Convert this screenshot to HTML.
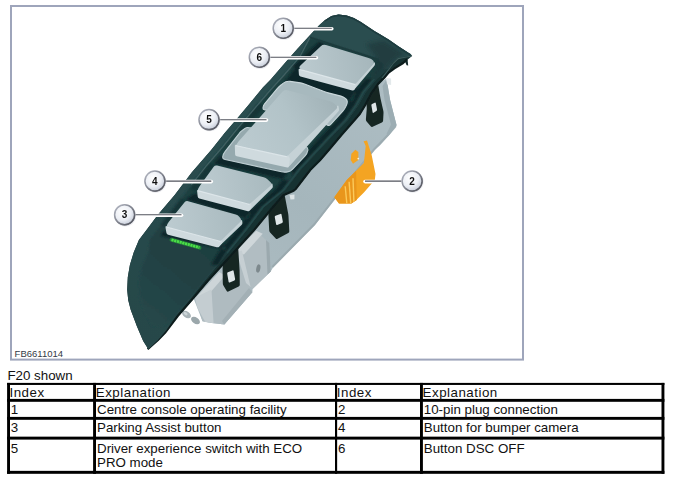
<!DOCTYPE html>
<html>
<head>
<meta charset="utf-8">
<title>F20 centre console operating facility</title>
<style>
html,body{margin:0;padding:0;background:#fff;}
body{width:674px;height:482px;position:relative;overflow:hidden;font-family:"Liberation Sans",sans-serif;color:#000;}
#art{position:absolute;left:0;top:0;width:674px;height:482px;}
.h{letter-spacing:0.5px;}
.t{position:absolute;font-size:13.33px;line-height:15px;white-space:nowrap;color:#111;}
</style>
</head>
<body>
<svg id="art" width="674" height="482" viewBox="0 0 674 482">
<defs>
  <linearGradient id="gPanel" gradientUnits="userSpaceOnUse" x1="360" y1="20" x2="150" y2="340">
    <stop offset="0" stop-color="#2c4e50"/>
    <stop offset="0.5" stop-color="#2a4d4f"/>
    <stop offset="1" stop-color="#264749"/>
  </linearGradient>
  <radialGradient id="gCall" cx="0.4" cy="0.35" r="0.75">
    <stop offset="0" stop-color="#ffffff"/>
    <stop offset="0.55" stop-color="#eceff5"/>
    <stop offset="1" stop-color="#bcc3d1"/>
  </radialGradient>
  <linearGradient id="gHouse" gradientUnits="userSpaceOnUse" x1="390" y1="90" x2="220" y2="320">
    <stop offset="0" stop-color="#adbdc3"/>
    <stop offset="0.5" stop-color="#a5b6bc"/>
    <stop offset="1" stop-color="#aebdc3"/>
  </linearGradient>
  <linearGradient id="gB6" gradientUnits="userSpaceOnUse" x1="305" y1="70" x2="370" y2="55">
    <stop offset="0" stop-color="#bac9ce"/><stop offset="1" stop-color="#a6b7bc"/>
  </linearGradient>
  <linearGradient id="gB5" gradientUnits="userSpaceOnUse" x1="240" y1="150" x2="335" y2="100">
    <stop offset="0" stop-color="#bccbd0"/><stop offset="0.55" stop-color="#b2c3c8"/><stop offset="1" stop-color="#a1b2b7"/>
  </linearGradient>
  <linearGradient id="gB4" gradientUnits="userSpaceOnUse" x1="200" y1="192" x2="270" y2="180">
    <stop offset="0" stop-color="#bccbd0"/><stop offset="1" stop-color="#a9babf"/>
  </linearGradient>
  <linearGradient id="gB3" gradientUnits="userSpaceOnUse" x1="168" y1="228" x2="240" y2="216">
    <stop offset="0" stop-color="#bccbd0"/><stop offset="1" stop-color="#a9babf"/>
  </linearGradient>
  <linearGradient id="gCallS" x1="0" y1="0" x2="1" y2="1">
    <stop offset="0" stop-color="#b8bcc8"/><stop offset="1" stop-color="#4a4c55"/>
  </linearGradient>
  <linearGradient id="gInner" gradientUnits="userSpaceOnUse" x1="215" y1="245" x2="150" y2="325">
    <stop offset="0" stop-color="#1f3f41"/><stop offset="0.4" stop-color="#214143"/><stop offset="1" stop-color="#264749"/>
  </linearGradient>
  <filter id="blur1" x="-10%" y="-10%" width="120%" height="120%"><feGaussianBlur stdDeviation="1.3"/></filter>
  <filter id="soft" x="-5%" y="-5%" width="110%" height="110%"><feGaussianBlur stdDeviation="0.55"/></filter>
  <filter id="blur2" x="-20%" y="-20%" width="140%" height="140%"><feGaussianBlur stdDeviation="2.2"/></filter>
  <filter id="blur0" x="-10%" y="-10%" width="120%" height="120%"><feGaussianBlur stdDeviation="0.9"/></filter>
</defs>

<!-- frame -->
<rect x="11" y="6" width="512" height="353.6" fill="#fff" stroke="#9ea5bb" stroke-width="2"/>

<!-- ILLUSTRATION -->
<g id="illus" filter="url(#soft)">
  <g id="housing">
  <path d="M378.0,84.0 L386.3,78.5 L387.6,85.0 L390.1,100.0 L396.6,125.2 L388.7,135.5 L380.3,145.0 L374.6,150.0 L350.0,180.0 L334.7,199.8 L315.0,225.0 L272.9,267.8 L270.7,271.4 L252.6,288.9 L252.3,292.3 L224.3,324.5 L211.9,323.0 L202.5,321.3 L194.2,300.0 L190.0,290.0 L300.0,170.0 Z" fill="url(#gHouse)"/>
  <path d="M395.8,126.0 L388.0,135.0 L374.0,149.5 L350.0,179.0 L334.0,199.0 L314.3,224.3 L272.3,267.0" fill="none" stroke="#97a6ab" stroke-width="2" opacity="0.8"/>
  <path d="M386.3,80.0 L387.6,85.0 L390.1,100.0 L396.6,125.2 L388.7,135.5 L386.5,134.0 L391.0,124.5 L384.5,100.0 L382.5,86.0 Z" fill="#9cadb3"/>
  <path d="M386.1,77.9 L391.1,78.6 L391.1,84.9 L387.0,84.3 Z" fill="#e3e9eb"/>
  <path d="M235.2,251.9 L256.2,230.8 L269.3,243.0 L270.7,271.4 L252.6,288.9 L246.0,283.0 Z" fill="#b1bdc2"/>
  <path d="M235.2,251.9 L256.2,230.8 L262.7,233.7 L243.9,254.5 Z" fill="#cfd7da"/>
  <path d="M266.0,240.0 L269.3,243.0 L270.7,271.4 L267.5,274.5 Z" fill="#9ba9ae"/>
  <ellipse cx="258.3" cy="268.5" rx="2" ry="4.2" fill="#7d898d" transform="rotate(12 258.3 268.5)"/>
  <path d="M195.2,298.5 L219.1,272.0 L240.0,268.0 L252.3,292.3 L224.3,324.5 L211.9,323.0 L202.5,321.3 Z" fill="#afbbc0"/>
  <path d="M195.2,298.5 L219.1,272.0 L225.0,275.5 L201.5,302.5 Z" fill="#cdd5d8"/>
  <path d="M249.0,288.0 L252.3,292.3 L224.3,324.5 L222.0,321.0 Z" fill="#a3b0b5"/>
  <path d="M194.9,297.8 L211.5,289.5 L213.6,323.2 L205.3,322.0 L197.5,308.0 Z" fill="#c4cdd1"/>
  <path d="M236.5,252.3 L241.9,250.5 L250.6,287.0 L246.0,283.0 Z" fill="#c6cfd3"/>
  <ellipse cx="186.5" cy="314.5" rx="5" ry="3.1" fill="#a9b4b8" transform="rotate(35 186.5 314.5)"/>
  <ellipse cx="195.5" cy="320.5" rx="5" ry="3.1" fill="#9ba7ab" transform="rotate(35 195.5 320.5)"/>
  <ellipse cx="185.6" cy="313.6" rx="2.2" ry="1.4" fill="#ccd4d7" transform="rotate(35 185.6 313.6)"/>
  <path d="M289.5,195.0 L294.5,194.6 L294.4,199.2 L290.5,199.6 Z" fill="#dde4e6"/>
  </g>
  <g id="connector">
  <path d="M334.3,197.2 L346.8,180.1 L363.9,163.0 L365.7,145.9 L363.6,141.2 L367.0,140.4 L371.7,155.2 L375.5,173.9 L374.8,180.1 L363.9,192.5 L356.1,200.3 L351.4,203.4 L339.0,203.4 Z" fill="#f4a421"/>
  <path d="M355.3,149.8 L358.4,152.1 L358.4,159.9 L353.0,163.8 L350.7,159.9 L351.4,153.7 Z" fill="#f4a421"/>
  <path d="M334.3,197.2 L346.8,180.1 L356.0,171.0 L356.8,200.0 L351.4,203.4 L339.0,203.4 Z" fill="#e9961b"/>
  <path d="M345.2,186.3 L346.8,203.2" stroke="#fbc95a" stroke-width="1.4" fill="none"/>
  <path d="M349.1,181.7 L350.7,203.2" stroke="#fbc95a" stroke-width="1.4" fill="none"/>
  <path d="M353.0,178.2 L353.9,201.7" stroke="#fbc95a" stroke-width="1.4" fill="none"/>
  <circle cx="358.3" cy="158.6" r="0.9" fill="#fff3d8"/>
  </g>
  <g id="clips">
  <path d="M366.1,99.8 Q366.0,98.6 366.7,97.6 L372.3,89.0 Q373.0,88.0 373.9,87.3 L377.2,84.7 Q378.1,84.0 378.3,85.2 L380.3,97.3 Q380.5,98.5 380.8,99.7 L383.3,110.8 Q383.6,112.0 383.5,113.2 L383.1,120.8 Q383.0,122.0 381.9,122.5 L372.6,126.7 Q371.5,127.2 370.7,126.3 L366.6,121.4 Q365.8,120.5 365.9,119.3 L366.7,109.2 Q366.8,108.0 366.7,106.8 Z" fill="#172624"/>
  <path d="M371.4,105.5 Q371.2,104.5 372.1,104.1 L374.7,102.7 Q375.6,102.3 375.8,103.3 L377.0,109.3 Q377.2,110.3 376.4,110.9 L373.6,112.7 Q372.8,113.3 372.6,112.3 Z" fill="#dfe6e8"/>
  <path d="M268.4,215.2 Q268.3,214.0 268.6,212.8 L270.7,204.2 Q271.0,203.0 272.0,202.3 L283.5,194.7 Q284.5,194.0 284.7,195.2 L288.2,213.8 Q288.4,215.0 288.5,216.2 L289.3,231.3 Q289.4,232.5 288.3,233.1 L277.6,238.7 Q276.5,239.3 275.7,238.4 L270.1,232.4 Q269.3,231.5 269.2,230.3 Z" fill="#172624"/>
  <path d="M274.8,217.2 Q274.6,216.2 275.5,215.8 L280.4,213.9 Q281.3,213.5 281.5,214.5 L282.8,221.6 Q283.0,222.6 282.1,223.0 L277.2,224.9 Q276.3,225.3 276.1,224.3 Z" fill="#dfe6e8"/>
  <path d="M222.6,269.2 Q222.6,268.0 222.7,266.8 L223.9,257.2 Q224.0,256.0 224.9,255.3 L237.1,245.7 Q238.0,245.0 238.1,246.2 L239.5,268.8 Q239.6,270.0 239.6,271.2 L239.8,284.8 Q239.8,286.0 238.7,286.5 L228.4,291.5 Q227.3,292.0 226.7,291.0 L223.4,285.5 Q222.8,284.5 222.8,283.3 Z" fill="#172624"/>
  <path d="M227.2,273.7 Q227.0,272.7 227.9,272.3 L232.5,270.4 Q233.4,270.0 233.6,271.0 L235.1,279.0 Q235.3,280.0 234.4,280.4 L229.7,282.4 Q228.8,282.8 228.6,281.8 Z" fill="#dfe6e8"/>
  </g>
  <g id="panel">
  <path d="M331.6,16.0 L324.8,20.3 L319.2,25.2 L312.2,32.8 L297.7,48.4 L283.2,65.0 L270.7,79.5 L262.9,87.6 L252.6,100.0 L248.5,105.0 L235.9,119.9 L224.7,133.0 L211.2,150.0 L191.7,172.4 L174.7,195.0 L158.1,214.6 L148.0,228.0 L138.9,240.0 L133.7,252.4 L129.9,264.9 L127.8,277.3 L127.2,289.8 L128.2,300.0 L130.7,309.8 L137.0,326.4 L143.2,340.9 L148.4,349.2 L158.8,339.9 L166.0,332.6 L178.5,316.0 L193.0,299.4 L208.5,281.0 L234.0,253.0 L254.9,230.0 L273.8,207.0 L284.2,195.2 L294.3,190.8 L296.5,189.0 L311.0,170.0 L321.0,160.0 L329.6,150.0 L342.2,135.0 L355.6,119.8 L360.5,114.0 L366.0,105.0 L372.0,93.5 L378.6,84.1 L385.3,77.4 L389.4,72.5 L395.2,68.3 L403.5,63.3 L408.0,59.3 L412.2,55.9 L410.5,54.0 L407.3,52.1 L398.0,46.0 L388.7,39.5 L380.0,34.2 L375.2,31.4 L368.1,26.8 L361.0,22.0 L353.8,17.9 L346.7,15.5 L338.7,14.5 Z" fill="#183031"/>
  <path d="M404.5,60.5 L407.6,60 L408.2,65.6 L406.6,65.2 Z" fill="#14292a"/>
  <path d="M147.6,349.2 L158.0,339.9 L165.2,332.6 L177.7,316.0 L192.2,299.4 L207.7,281.0 L233.2,253.0 L254.1,230.0 L273.0,207.0 L283.4,195.2 L293.5,190.8 L295.7,189.0 L310.2,170.0 L320.2,160.0 L328.8,150.0 L341.4,135.0 L354.8,119.8 L359.7,114.0 L365.2,105.0 L371.2,93.5 L377.8,84.1 L384.5,77.4 L388.6,72.5 L394.4,68.3 L402.7,63.3 L407.2,59.3" fill="none" stroke="#0f1e1e" stroke-width="2.2"/>
  <clipPath id="cpTop"><path d="M331.6,16.0 L324.8,20.3 L319.2,25.2 L312.2,32.8 L297.7,48.4 L283.2,65.0 L270.7,79.5 L262.9,87.6 L252.6,100.0 L248.5,105.0 L235.9,119.9 L224.7,133.0 L211.2,150.0 L191.7,172.4 L174.7,195.0 L158.1,214.6 L148.0,228.0 L138.9,240.0 L133.7,252.4 L129.9,264.9 L127.8,277.3 L127.2,289.8 L128.2,300.0 L130.7,309.8 L137.0,326.4 L143.2,340.9 L148.4,349.2 L158.0,340.0 L166.5,330.0 L176.0,316.0 L189.5,300.0 L204.5,281.0 L217.9,265.0 L228.0,253.0 L246.9,230.0 L264.3,207.0 L285.1,190.0 L300.5,170.0 L319.2,150.0 L333.2,135.0 L347.9,120.0 L358.5,105.0 L365.8,92.0 L376.7,79.0 L388.2,68.8 L393.0,62.3 L398.0,57.9 L405.0,56.6 L411.3,55.6 L411.8,55.6 L410.5,54.0 L407.3,52.1 L398.0,46.0 L388.7,39.5 L380.0,34.2 L375.2,31.4 L368.1,26.8 L361.0,22.0 L353.8,17.9 L346.7,15.5 L338.7,14.5 Z"/></clipPath>
  <path d="M331.6,16.0 L324.8,20.3 L319.2,25.2 L312.2,32.8 L297.7,48.4 L283.2,65.0 L270.7,79.5 L262.9,87.6 L252.6,100.0 L248.5,105.0 L235.9,119.9 L224.7,133.0 L211.2,150.0 L191.7,172.4 L174.7,195.0 L158.1,214.6 L148.0,228.0 L138.9,240.0 L133.7,252.4 L129.9,264.9 L127.8,277.3 L127.2,289.8 L128.2,300.0 L130.7,309.8 L137.0,326.4 L143.2,340.9 L148.4,349.2 L158.0,340.0 L166.5,330.0 L176.0,316.0 L189.5,300.0 L204.5,281.0 L217.9,265.0 L228.0,253.0 L246.9,230.0 L264.3,207.0 L285.1,190.0 L300.5,170.0 L319.2,150.0 L333.2,135.0 L347.9,120.0 L358.5,105.0 L365.8,92.0 L376.7,79.0 L388.2,68.8 L393.0,62.3 L398.0,57.9 L405.0,56.6 L411.3,55.6 L411.8,55.6 L410.5,54.0 L407.3,52.1 L398.0,46.0 L388.7,39.5 L380.0,34.2 L375.2,31.4 L368.1,26.8 L361.0,22.0 L353.8,17.9 L346.7,15.5 L338.7,14.5 Z" fill="url(#gPanel)"/>
  <g clip-path="url(#cpTop)"><path d="M310.0,37.4 L299.9,56.7 L284.1,75.0 L269.6,91.0 L253.3,110.0 L237.6,128.4 L222.6,147.0 L207.1,165.0 L191.2,185.0 L176.7,205.0 L160.8,225.0 L149.4,240.0 L148.5,252.0 L142.0,266.0 L139.0,281.0 L139.5,296.0 L144.0,311.0 L152.0,326.0 L165.0,325.0 L176.0,316.0 L189.5,300.0 L204.5,281.0 L217.9,265.0 L225.0,253.0 L243.7,230.0 L260.9,207.0 L281.6,190.0 L296.8,170.0 L315.4,150.0 L329.3,135.0 L343.8,120.0 L354.3,105.0 L361.5,92.0 L372.3,79.0 L381.5,70.0 L383.5,64.5 L378.6,59.8 Z" fill="url(#gInner)" filter="url(#blur1)"/></g>
  <g clip-path="url(#cpTop)"><path d="M376.0,58.0 L366.0,44.0 L384.0,40.0 L406.0,54.0 L398.0,57.9 L393.0,62.3 L388.2,68.8 L378.0,82.0 L372.0,80.0 Z" fill="#1b3537" opacity="0.6" filter="url(#blur2)"/></g>
  <path d="M411.0,56.2 L405.0,57.2 L398.3,58.6 L393.5,63.0 L388.8,69.4 L382.0,78.0" fill="none" stroke="#456767" stroke-width="1.1" opacity="0.8"/>
  <path d="M410.2,54.9 L407.0,53.0 L397.7,46.9 L388.4,40.4 L379.7,35.1 L374.9,32.3 L367.8,27.7 L360.7,22.9 L353.5,18.8 L346.4,16.4 L338.4,15.4 L331.6,16.8 L324.8,21.2" fill="none" stroke="#1d3a3c" stroke-width="1.6" opacity="0.8"/>
  <g clip-path="url(#cpTop)"><path d="M264.0,106.0 L259.0,112.0 L243.0,133.0 L239.0,130.0 L258.0,104.0 Z M214.0,166.0 L196.0,191.0 L191.0,189.0 L210.0,163.0 Z M185.0,201.5 L165.0,227.0 L160.5,225.0 L181.0,198.5 Z" fill="#10262a" opacity="0.45" filter="url(#blur0)"/></g>
  <g clip-path="url(#cpTop)"><path d="M296.0,67.0 L357.0,85.5 L353.0,101.0 L283.0,84.0 Z M319.0,41.5 L325.0,44.0 L299.0,71.0 L292.5,66.5 Z M221.0,155.5 L293.0,172.0 L290.0,181.0 L213.5,163.5 Z M194.5,193.5 L252.0,209.0 L248.0,219.0 L185.5,199.5 Z M163.0,231.0 L219.0,247.0 L224.0,243.0 L226.0,250.0 L161.0,236.0 Z M218.4,265.0 L225.5,253.0 L244.2,230.0 L261.4,207.0 L282.1,190.0 L297.3,170.0 L315.9,150.0 L329.8,135.0 L344.3,120.0 L354.8,105.0 L362.0,92.0 L372.8,79.0 L365.3,79.0 L354.5,92.0 L347.3,105.0 L336.8,120.0 L322.3,135.0 L308.4,150.0 L289.8,170.0 L274.6,190.0 L253.9,207.0 L236.7,230.0 L218.0,253.0 L210.9,265.0 Z" fill="#10262a" filter="url(#blur0)"/></g>
  <path d="M176.0,316.0 L189.5,300.0 L204.5,281.0 L217.9,265.0 L225.0,253.0 L243.7,230.0 L260.9,207.0 L281.6,190.0 L296.8,170.0 L315.4,150.0 L329.3,135.0 L343.8,120.0 L354.3,105.0 L361.5,92.0 L372.3,79.0 L381.5,70.0 L388.2,68.8 L376.7,79.0 L365.8,92.0 L358.5,105.0 L347.9,120.0 L333.2,135.0 L319.2,150.0 L300.5,170.0 L285.1,190.0 L264.3,207.0 L246.9,230.0 L228.0,253.0 L217.9,265.0 L204.5,281.0 L189.5,300.0 L176.0,316.0 Z" fill="#1d3b3c" opacity="0.85"/>
  <path d="M227.0,253.0 L245.7,230.0 L262.9,207.0 L283.6,190.0 L298.8,170.0 L317.4,150.0 L331.3,135.0 L345.8,120.0 L356.3,105.0 L363.5,92.0 L374.3,79.0" fill="none" stroke="#25494a" stroke-width="1.6" opacity="0.9"/>
  <path d="M310.0,37.4 L299.9,56.7 L284.1,75.0 L269.6,91.0 L253.3,110.0 L237.6,128.4 L222.6,147.0 L207.1,165.0 L191.2,185.0" fill="none" stroke="#456466" stroke-width="1.2" opacity="0.85"/>
  <path d="M310,37.4 L378.6,59.8" stroke="#1f3b3d" stroke-width="2" fill="none"/>
  </g>
  <g id="buttons">
  <path d="M354.6,83.5 Q354.8,82.0 355.9,80.9 L373.7,62.8 Q374.8,61.7 375.0,63.2 L375.0,63.5 Q375.2,65.0 374.2,66.1 L354.6,89.2 Q353.6,90.3 353.8,88.8 Z" fill="#c5d2d6"/>
  <path d="M298.6,70.1 Q298.5,68.5 300.1,68.9 L353.2,81.6 Q354.8,82.0 355.9,83.0 L355.9,83.0 Q357.0,84.0 356.3,85.4 L354.5,89.4 Q353.8,90.8 352.3,90.4 L300.5,76.4 Q299.0,76.0 298.9,74.4 Z" fill="#cfdade"/>
  <path d="M320.8,46.3 Q323.0,44.2 325.9,45.1 L368.6,57.9 Q371.5,58.8 373.1,60.6 L373.1,60.6 Q374.8,62.5 372.8,64.7 L356.1,83.2 Q354.8,84.7 352.9,84.2 L301.9,69.7 Q300.0,69.2 299.5,68.1 L299.5,68.1 Q299.0,67.0 300.4,65.6 Z" fill="url(#gB6)"/>
  <path d="M300.5,69.6 L354.5,84.4" fill="none" stroke="#e1e9ec" stroke-width="1.1" stroke-linecap="round" opacity="0.85"/>
  <path d="M264.3,109.8 Q262.8,109.5 263.0,108.0 L263.1,107.3 Q263.3,105.3 264.6,103.8 L277.0,88.9 Q278.9,86.6 281.3,84.8 L283.0,83.4 Q286.2,80.9 290.2,81.4 L298.7,82.6 Q301.7,83.0 304.5,84.1 L323.4,91.2 Q326.2,92.3 329.1,93.1 L340.9,96.1 Q343.8,96.9 346.0,98.9 L346.0,99.0 Q348.2,101.0 346.6,104.7 L346.0,106.1 Q344.8,108.9 342.8,111.1 L330.7,124.3 Q329.3,125.8 327.6,125.2 L327.4,125.0 Q326.0,124.5 324.5,124.2 Z" fill="#a7b9be" stroke="#cad7db" stroke-width="1.1"/>
  <path d="M241.9,130.8 Q240.3,132.0 239.1,133.6 L225.2,151.3 Q223.3,153.7 222.8,156.3 L222.8,156.3 Q222.2,158.9 225.1,159.5 L281.5,171.8 Q284.4,172.4 287.4,171.9 L287.6,171.9 Q290.6,171.4 292.7,169.2 L305.1,155.9 Q307.2,153.7 307.7,150.7 L307.8,150.5 Q308.3,147.5 305.5,146.5 L252.9,128.3 Q252.0,128.0 251.0,127.9 L248.5,127.6 Q246.5,127.3 244.9,128.5 Z" fill="#95a9ae" stroke="#bdcdd1" stroke-width="1.1"/>
  <path d="M286.7,155.5 Q286.5,154.0 287.6,153.0 L337.2,106.0 Q338.3,105.0 338.6,106.5 L339.0,109.0 Q339.3,110.5 338.3,111.6 L289.6,166.1 Q288.6,167.2 288.4,165.7 Z" fill="#c5d2d6"/>
  <path d="M234.8,146.1 Q234.7,144.5 236.3,144.8 L284.9,153.7 Q286.5,154.0 287.6,155.2 L288.9,156.8 Q290.0,158.0 289.8,159.6 L289.0,166.2 Q288.8,167.8 287.2,167.5 L236.8,156.3 Q235.2,156.0 235.1,154.4 Z" fill="#cfdade"/>
  <path d="M282.4,91.7 Q284.4,89.5 287.3,90.3 L329.2,101.1 Q332.1,101.9 334.4,103.8 L336.0,105.2 Q338.3,107.1 336.1,109.2 L288.7,154.8 Q286.5,156.9 283.6,156.2 L238.6,146.2 Q235.7,145.5 236.8,143.9 L236.8,143.9 Q237.8,142.3 239.8,140.1 Z" fill="url(#gB5)"/>
  <path d="M236.5,145.8 L286.3,156.6" fill="none" stroke="#e1e9ec" stroke-width="1.1" stroke-linecap="round" opacity="0.85"/>
  <path d="M249.2,203.5 Q249.2,202.0 250.4,201.0 L271.2,184.0 Q272.4,183.0 272.6,184.5 L272.8,186.0 Q273.0,187.5 271.9,188.6 L250.3,209.9 Q249.2,211.0 249.2,209.5 Z" fill="#c5d2d6"/>
  <path d="M197.1,191.1 Q197.0,189.5 198.6,189.9 L247.6,201.6 Q249.2,202.0 250.3,203.2 L250.9,203.8 Q252.0,205.0 251.4,206.5 L250.0,210.1 Q249.4,211.6 247.9,211.2 L199.3,198.6 Q197.8,198.2 197.7,196.6 Z" fill="#cfdade"/>
  <path d="M213.7,166.8 Q215.0,165.0 217.1,165.5 L263.7,177.3 Q265.8,177.8 267.4,179.3 L270.8,182.5 Q272.4,184.0 270.8,185.5 L250.8,203.0 Q249.2,204.5 247.1,203.9 L199.5,191.1 Q197.4,190.5 198.2,188.8 L198.2,188.8 Q199.0,187.0 200.3,185.2 Z" fill="url(#gB4)"/>
  <path d="M198.5,190.9 L249.0,204.3" fill="none" stroke="#e1e9ec" stroke-width="1.1" stroke-linecap="round" opacity="0.85"/>
  <path d="M219.8,240.5 Q220.2,239.0 221.3,238.0 L240.9,220.5 Q242.0,219.5 242.2,221.0 L242.4,222.5 Q242.6,224.0 241.5,225.0 L219.2,246.3 Q218.1,247.3 218.5,245.8 Z" fill="#c5d2d6"/>
  <path d="M165.5,227.4 Q165.3,225.8 166.9,226.2 L218.6,238.6 Q220.2,239.0 221.3,240.2 L221.9,240.8 Q223.0,242.0 222.0,243.2 L219.3,246.4 Q218.3,247.6 216.8,247.2 L168.1,234.7 Q166.6,234.3 166.4,232.7 Z" fill="#cfdade"/>
  <path d="M184.6,202.3 Q186.0,200.6 188.1,201.2 L235.7,214.5 Q237.8,215.1 239.2,216.8 L240.6,218.6 Q242.0,220.3 240.4,221.8 L221.8,240.0 Q220.2,241.5 218.1,240.9 L168.4,227.4 Q166.3,226.8 166.9,225.2 L166.9,225.2 Q167.5,223.5 168.9,221.8 Z" fill="url(#gB3)"/>
  <path d="M167.3,227.2 L220.0,241.3" fill="none" stroke="#e1e9ec" stroke-width="1.1" stroke-linecap="round" opacity="0.85"/>
  <path d="M171.5,239.8 L199.5,247.6" stroke="#2aa838" stroke-width="4" stroke-linecap="round" fill="none" opacity="0.6"/>
  <path d="M171.5,239.8 L199.5,247.6" stroke="#4be047" stroke-width="2.7" stroke-dasharray="2.2 0.6" fill="none"/>
  </g>
  <g id="callouts" font-family="Liberation Sans, sans-serif" font-weight="bold" font-size="10" text-anchor="middle" fill="#111">
  <line x1="293.5" y1="28.8" x2="331.8" y2="28.8" stroke="#fff" stroke-width="3.6" stroke-linecap="round"/>
  <line x1="293.5" y1="28.3" x2="331.8" y2="28.3" stroke="#50535c" stroke-width="1.1"/>
  <circle cx="283.8" cy="29.0" r="10.9" fill="#d9dbe2" opacity="0.55"/>
  <circle cx="283.4" cy="28.8" r="10.3" fill="#55585f" opacity="0.75"/>
  <circle cx="283.2" cy="28.2" r="10" fill="url(#gCall)" stroke="url(#gCallS)" stroke-width="1.5"/>
  <text x="283.2" y="31.8">1</text>
  <line x1="269.5" y1="57.8" x2="316.4" y2="57.8" stroke="#fff" stroke-width="3.6" stroke-linecap="round"/>
  <line x1="269.5" y1="57.3" x2="316.4" y2="57.3" stroke="#50535c" stroke-width="1.1"/>
  <circle cx="259.9" cy="58.0" r="10.9" fill="#d9dbe2" opacity="0.55"/>
  <circle cx="259.6" cy="57.8" r="10.3" fill="#55585f" opacity="0.75"/>
  <circle cx="259.3" cy="57.2" r="10" fill="url(#gCall)" stroke="url(#gCallS)" stroke-width="1.5"/>
  <text x="259.3" y="60.8">6</text>
  <line x1="219.5" y1="120.1" x2="266.5" y2="120.1" stroke="#fff" stroke-width="3.6" stroke-linecap="round"/>
  <line x1="219.5" y1="119.7" x2="266.5" y2="119.7" stroke="#50535c" stroke-width="1.1"/>
  <circle cx="209.6" cy="120.4" r="10.9" fill="#d9dbe2" opacity="0.55"/>
  <circle cx="209.2" cy="120.1" r="10.3" fill="#55585f" opacity="0.75"/>
  <circle cx="209.0" cy="119.6" r="10" fill="url(#gCall)" stroke="url(#gCallS)" stroke-width="1.5"/>
  <text x="209.0" y="123.2">5</text>
  <line x1="165.5" y1="181.6" x2="211.3" y2="181.6" stroke="#fff" stroke-width="3.6" stroke-linecap="round"/>
  <line x1="165.5" y1="181.1" x2="211.3" y2="181.1" stroke="#50535c" stroke-width="1.1"/>
  <circle cx="155.5" cy="181.8" r="10.9" fill="#d9dbe2" opacity="0.55"/>
  <circle cx="155.2" cy="181.6" r="10.3" fill="#55585f" opacity="0.75"/>
  <circle cx="154.9" cy="181.0" r="10" fill="url(#gCall)" stroke="url(#gCallS)" stroke-width="1.5"/>
  <text x="154.9" y="184.6">4</text>
  <line x1="135.0" y1="215.2" x2="181.5" y2="215.2" stroke="#fff" stroke-width="3.6" stroke-linecap="round"/>
  <line x1="135.0" y1="214.8" x2="181.5" y2="214.8" stroke="#50535c" stroke-width="1.1"/>
  <circle cx="125.2" cy="215.5" r="10.9" fill="#d9dbe2" opacity="0.55"/>
  <circle cx="124.8" cy="215.2" r="10.3" fill="#55585f" opacity="0.75"/>
  <circle cx="124.6" cy="214.7" r="10" fill="url(#gCall)" stroke="url(#gCallS)" stroke-width="1.5"/>
  <text x="124.6" y="218.3">3</text>
  <line x1="401.5" y1="181.6" x2="365.0" y2="181.6" stroke="#fff" stroke-width="3.6" stroke-linecap="round"/>
  <line x1="401.5" y1="181.1" x2="365.0" y2="181.1" stroke="#50535c" stroke-width="1.1"/>
  <circle cx="412.7" cy="181.8" r="10.9" fill="#d9dbe2" opacity="0.55"/>
  <circle cx="412.4" cy="181.6" r="10.3" fill="#55585f" opacity="0.75"/>
  <circle cx="412.1" cy="181.0" r="10" fill="url(#gCall)" stroke="url(#gCallS)" stroke-width="1.5"/>
  <text x="412.1" y="184.6">2</text>
  </g>
</g>

<!-- table lines -->
<g id="tbl" fill="#000">
  <rect x="7.1" y="382.9" width="657.3" height="2.05"/>
  <rect x="7.1" y="398.9" width="657.3" height="2.9"/>
  <rect x="7.1" y="416.9" width="657.3" height="2.9"/>
  <rect x="7.1" y="436.65" width="657.3" height="2.95"/>
  <rect x="7.1" y="470.85" width="657.3" height="2.95"/>
  <rect x="7.1" y="382.9" width="2.9" height="90.9"/>
  <rect x="93.1" y="382.9" width="2.9" height="90.9"/>
  <rect x="335.0" y="382.9" width="2.15" height="90.9"/>
  <rect x="420.0" y="382.9" width="2.9" height="90.9"/>
  <rect x="661.5" y="382.9" width="2.9" height="90.9"/>
</g>
</svg>

<div class="t" style="left:7.4px;top:368.4px;">F20 shown</div>

<div class="t h" style="left:9.5px;top:384.5px;">Index</div>
<div class="t h" style="left:95.8px;top:384.5px;">Explanation</div>
<div class="t h" style="left:336.8px;top:384.5px;">Index</div>
<div class="t h" style="left:422.6px;top:384.5px;">Explanation</div>

<div class="t" style="left:10.8px;top:401.6px;">1</div>
<div class="t" style="left:97px;top:401.6px;">Centre console operating facility</div>
<div class="t" style="left:338px;top:401.6px;">2</div>
<div class="t" style="left:423.8px;top:401.6px;">10-pin plug connection</div>

<div class="t" style="left:10.8px;top:420.1px;">3</div>
<div class="t" style="left:97px;top:420.1px;">Parking Assist button</div>
<div class="t" style="left:338px;top:420.1px;">4</div>
<div class="t" style="left:423.8px;top:420.1px;">Button for bumper camera</div>

<div class="t" style="left:10.8px;top:440.7px;">5</div>
<div class="t" style="left:97px;top:440.7px;">Driver experience switch with ECO</div>
<div class="t" style="left:97px;top:455px;">PRO mode</div>
<div class="t" style="left:338px;top:440.7px;">6</div>
<div class="t" style="left:423.8px;top:440.7px;">Button DSC OFF</div>

<div class="t" style="left:14.6px;top:348.2px;font-size:9.5px;line-height:11px;color:#333a44;">FB6611014</div>
</body>
</html>
